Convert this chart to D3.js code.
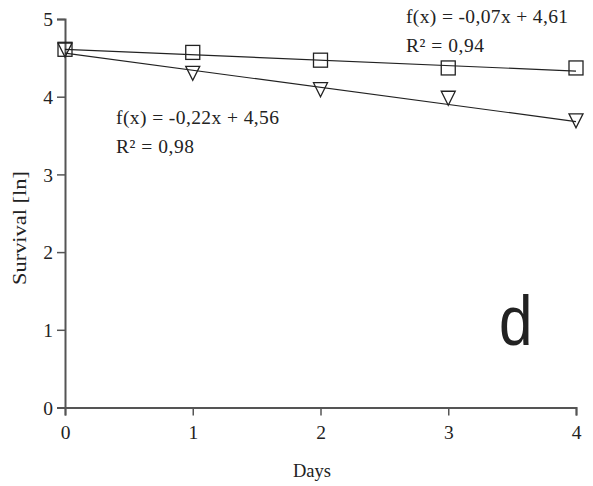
<!DOCTYPE html>
<html>
<head>
<meta charset="utf-8">
<script src="https://cdn.jsdelivr.net/npm/d3@7"></script>
<style>
  body { margin: 0; background: #fff; }
  svg { display: block; }
</style>
</head>
<body>
<svg id="chart" width="593" height="486"></svg>
<script>
// Survival over days, two treatments with linear fits
const days = [0, 1, 2, 3, 4];
const squareValues = [4.61, 4.57, 4.47, 4.37, 4.37];
const triangleValues = [4.60, 4.30, 4.09, 3.98, 3.69];
const squareFit = { slope: -0.07, intercept: 4.61 };
const triangleFit = { slope: -0.22, intercept: 4.56 };
const xTicks = [0, 1, 2, 3, 4];
const yTicks = [0, 1, 2, 3, 4, 5];
const squareLabels = ["f(x) = -0,07x + 4,61", "R² = 0,94"];
const triangleLabels = ["f(x) = -0,22x + 4,56", "R² = 0,98"];

const svg = d3.select("#chart");
const serif = "'Liberation Serif', 'DejaVu Serif', serif";
const ink = "#222";
const axisInk = "#555";

const x = d3.scaleLinear().domain([0, 4]).range([65, 576]);
const y = d3.scaleLinear().domain([0, 5]).range([407.5, 19]);

// Axes
const xAxis = svg.append("g")
  .attr("transform", `translate(0,${y(0)})`)
  .call(d3.axisBottom(x).tickValues(xTicks).tickFormat(d3.format("d")).tickSizeOuter(0).tickSize(8).tickPadding(6));
const yAxis = svg.append("g")
  .attr("transform", `translate(${x(0)},0)`)
  .call(d3.axisLeft(y).tickValues(yTicks).tickFormat(d3.format("d")).tickSizeOuter(0).tickSize(8).tickPadding(4));

[xAxis, yAxis].forEach(g => {
  g.select(".domain").attr("stroke", axisInk).attr("stroke-width", 2);
  g.selectAll(".tick line").attr("stroke", axisInk).attr("stroke-width", 1.5);
  g.selectAll(".tick text").attr("fill", ink).style("font-family", serif).style("font-size", "19.5px");
});
xAxis.selectAll(".tick text").attr("dy", "0.9em");
yAxis.selectAll(".tick text").attr("dy", "0.35em");

// Axis titles
svg.append("text")
  .attr("x", 312).attr("y", 477)
  .attr("text-anchor", "middle")
  .attr("textLength", 38).attr("lengthAdjust", "spacingAndGlyphs")
  .style("font-family", serif).style("font-size", "18px").attr("fill", ink)
  .text("Days");
svg.append("text")
  .attr("transform", `translate(26,228) rotate(-90)`)
  .attr("text-anchor", "middle")
  .attr("textLength", 114).attr("lengthAdjust", "spacingAndGlyphs")
  .style("font-family", serif).style("font-size", "19px").attr("fill", ink)
  .text("Survival [ln]");

// Fit lines
const fitLine = f => d3.line()
  .x(d => x(d))
  .y(d => y(f.slope * d + f.intercept));
svg.append("path").datum([0, 4]).attr("d", fitLine(squareFit))
  .attr("fill", "none").attr("stroke", ink).attr("stroke-width", 1.2);
svg.append("path").datum([0, 4]).attr("d", fitLine(triangleFit))
  .attr("fill", "none").attr("stroke", ink).attr("stroke-width", 1.2);

// Markers
const sq = 14;
svg.append("g").selectAll("rect")
  .data(days.map((d, i) => [d, squareValues[i]]))
  .join("rect")
  .attr("x", d => x(d[0]) - sq / 2)
  .attr("y", d => y(d[1]) - sq / 2)
  .attr("width", sq).attr("height", sq)
  .attr("fill", "none").attr("stroke", ink).attr("stroke-width", 1.3);

const tri = 14;
svg.append("g").selectAll("path")
  .data(days.map((d, i) => [d, triangleValues[i]]))
  .join("path")
  .attr("d", d => {
    const cx = x(d[0]), cy = y(d[1]);
    return `M${cx - tri / 2},${cy - tri / 2}L${cx + tri / 2},${cy - tri / 2}L${cx},${cy + tri / 2}Z`;
  })
  .attr("fill", "none").attr("stroke", ink).attr("stroke-width", 1.3);

// Regression annotations
const note = (lines, x0, y0, widths) => {
  svg.append("g").selectAll("text").data(lines).join("text")
    .attr("x", x0).attr("y", (d, i) => y0 + i * 29)
    .attr("textLength", (d, i) => widths[i]).attr("lengthAdjust", "spacing")
    .style("font-family", serif).style("font-size", "19.5px").attr("fill", ink)
    .text(d => d);
};
note(squareLabels, 406, 23, [162, 78]);
note(triangleLabels, 116, 124, [163, 78]);

// Panel letter
svg.append("text")
  .attr("transform", "translate(499,345) scale(0.86,1)")
  .style("font-family", "'Liberation Sans', Arial, sans-serif")
  .style("font-size", "70px").attr("fill", ink)
  .text("d");
</script>
</body>
</html>
